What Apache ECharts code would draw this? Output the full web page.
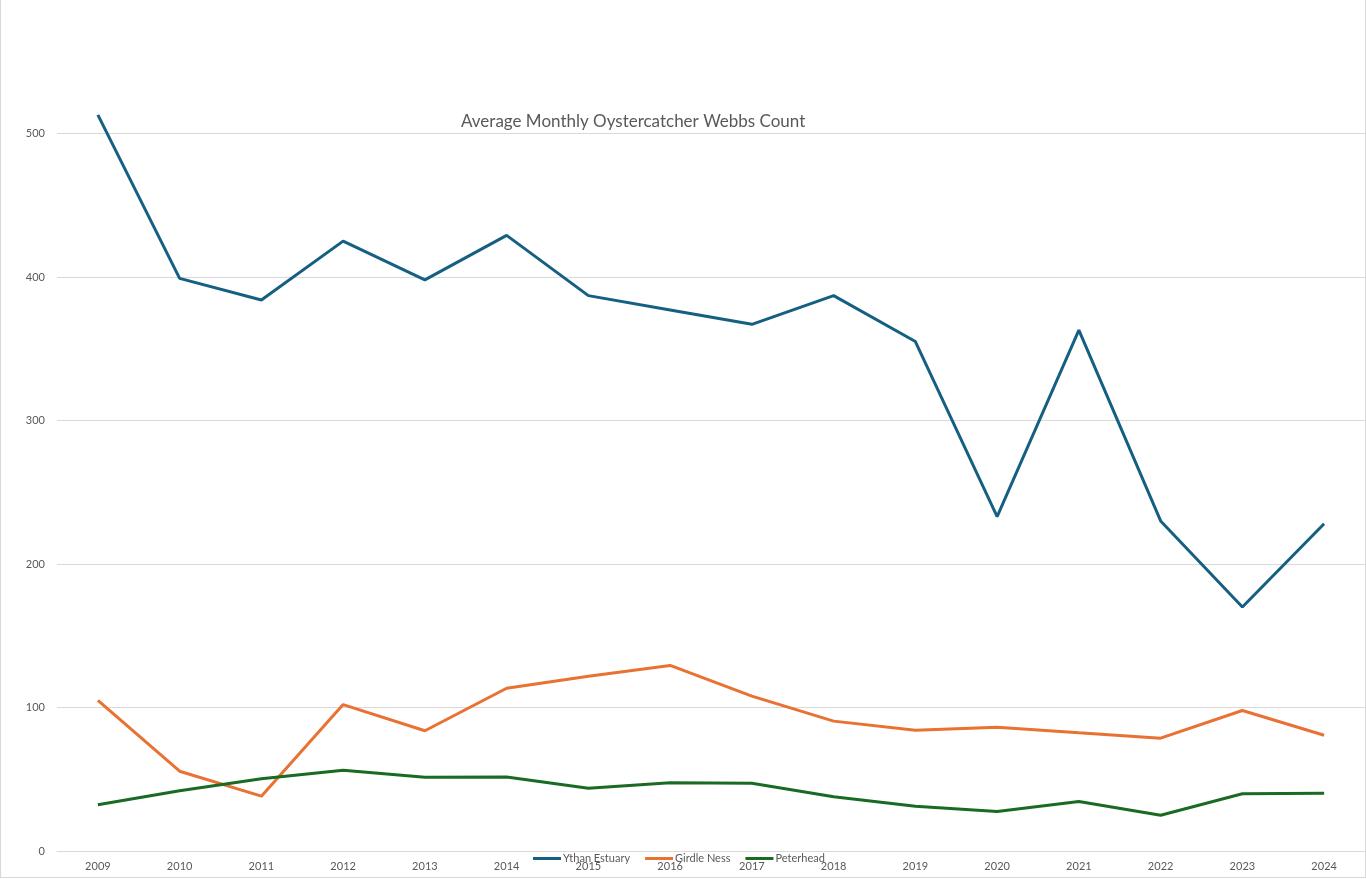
<!DOCTYPE html>
<html>
<head>
<meta charset="utf-8">
<script src="https://cdn.jsdelivr.net/npm/echarts@6/dist/echarts.min.js"></script>
<style>
  html, body { margin: 0; padding: 0; background: #fff; }
  #chart { width: 1364px; height: 877px; border: 1px solid #d9d9d9; border-top: none; }
</style>
</head>
<body>
<div id="chart"></div>
<script>
const years = ['2009', '2010', '2011', '2012', '2013', '2014', '2015', '2016',
  '2017', '2018', '2019', '2020', '2021', '2022', '2023', '2024'];
const ythanEstuary = [513, 399, 384, 425, 398, 429, 387, 377, 367, 387, 355, 233, 363, 230, 170, 228];
const girdleNess = [105, 55.6, 38.2, 102, 83.8, 113.4, 121.8, 129.3, 107.9, 90.5, 84.2, 86.3, 82.4, 78.6, 97.9, 80.7];
const peterhead = [32.2, 42, 50.3, 56.3, 51.4, 51.6, 43.8, 47.5, 47.2, 37.8, 31.2, 27.5, 34.5, 24.9, 39.9, 40.3];

const textColor = '#595959';
const fontFamily = 'Lato, "Noto Sans", sans-serif';

const chart = echarts.init(document.getElementById('chart'));

function lineSeries(name, data, color) {
  return {
    name,
    type: 'line',
    data,
    showSymbol: false,
    symbol: 'none',
    lineStyle: { width: 3, color },
    itemStyle: { color },
    emphasis: { disabled: true }
  };
}

chart.setOption({
  animation: false,
  textStyle: { fontFamily },
  title: {
    text: 'Average Monthly Oystercatcher Webbs Count',
    left: 455,
    top: 108,
    textStyle: { color: textColor, fontSize: 17, fontWeight: 'normal', fontFamily }
  },
  legend: {
    left: 527,
    top: 848,
    itemWidth: 28,
    itemHeight: 3,
    itemGap: 15,
    icon: 'rect',
    textStyle: { color: textColor, fontSize: 11, fontFamily, padding: [0, 0, 0, -3] },
    data: ['Ythan Estuary', 'Girdle Ness', 'Peterhead']
  },
  grid: { left: 56, right: 0, top: 0, bottom: 26, containLabel: false },
  xAxis: {
    type: 'category',
    data: years,
    boundaryGap: true,
    axisLine: { lineStyle: { color: '#d9d9d9', width: 1 } },
    axisTick: { show: false },
    axisLabel: { color: textColor, fontSize: 11, margin: 10, fontFamily }
  },
  yAxis: {
    type: 'value',
    min: 0,
    max: 593,
    interval: 100,
    axisLine: { show: false },
    axisTick: { show: false },
    splitLine: { showMaxLine: false, lineStyle: { color: '#d9d9d9', width: 1 } },
    axisLabel: {
      color: textColor, fontSize: 11, margin: 12, fontFamily,
      showMaxLabel: false
    }
  },
  series: [
    lineSeries('Ythan Estuary', ythanEstuary, '#156082'),
    lineSeries('Girdle Ness', girdleNess, '#E97132'),
    lineSeries('Peterhead', peterhead, '#196B24')
  ]
});
</script>
</body>
</html>
